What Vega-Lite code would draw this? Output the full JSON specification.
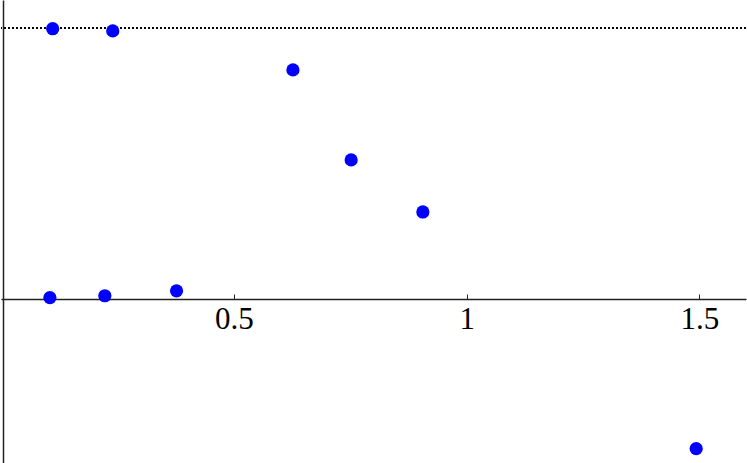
{
  "$schema": "https://vega.github.io/schema/vega-lite/v6.json",
  "width": 747,
  "height": 463,
  "autosize": {"type": "fit", "contains": "padding"},
  "padding": 0,
  "background": "white",
  "config": {"view": {"stroke": null}},
  "data": {"values": [
    {"x": 0.111, "y": 0.997},
    {"x": 0.240, "y": 0.989},
    {"x": 0.627, "y": 0.845},
    {"x": 0.752, "y": 0.513},
    {"x": 0.906, "y": 0.321},
    {"x": 0.105, "y": 0.005},
    {"x": 0.223, "y": 0.012},
    {"x": 0.377, "y": 0.030},
    {"x": 1.493, "y": -0.552}
  ]},
  "layer": [
    {
      "mark": {"type": "rule", "color": "black", "strokeWidth": 1, "strokeDash": [2, 2]},
      "encoding": {"y": {"datum": 1, "type": "quantitative"}}
    },
    {
      "mark": {"type": "point", "filled": true, "color": "#0000ff", "size": 175, "opacity": 1, "shape": "circle"},
      "encoding": {
        "x": {
          "field": "x", "type": "quantitative",
          "scale": {"domain": [0, 1.6], "nice": false, "zero": false},
          "axis": {
            "title": null, "values": [0.5, 1, 1.5], "format": "~g",
            "offset": -164, "grid": false,
            "domainColor": "#222222", "domainWidth": 1.5,
            "tickColor": "#222222", "tickSize": -5, "tickWidth": 1,
            "labelFont": "Liberation Serif", "labelFontSize": 31, "labelColor": "black",
            "labelPadding": 10
          }
        },
        "y": {
          "field": "y", "type": "quantitative",
          "scale": {"domain": [-0.605, 1.103], "nice": false, "zero": false},
          "axis": {
            "title": null, "labels": false, "ticks": false, "grid": false,
            "domainColor": "#222222", "domainWidth": 1.5, "offset": -2
          }
        }
      }
    }
  ]
}
